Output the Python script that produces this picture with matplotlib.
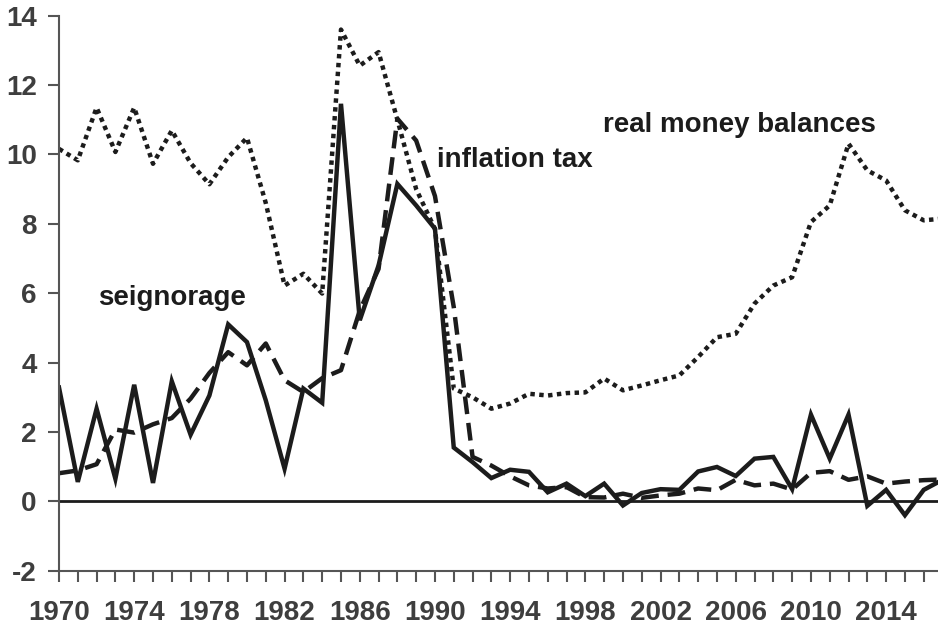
import matplotlib
matplotlib.use('Agg')
import matplotlib.pyplot as plt

plt.rcParams['font.family'] = ['Liberation Sans', 'DejaVu Sans']
plt.rcParams['axes.unicode_minus'] = False

# years 1970-2017
years = list(range(1970, 2018))

# seignorage (solid)
seignorage = [3.28, 0.56, 2.67, 0.65, 3.36, 0.53, 3.46, 1.92, 3.05, 5.10,
              4.59, 2.91, 0.94, 3.25, 2.84, 11.46, 5.22, 6.80, 9.15, 8.53,
              7.86, 1.55, 1.13, 0.67, 0.91, 0.85, 0.26, 0.51, 0.15, 0.51,
              -0.12, 0.24, 0.35, 0.33, 0.86, 0.99, 0.73, 1.23, 1.28, 0.35,
              2.50, 1.23, 2.50, -0.13, 0.33, -0.40, 0.33, 0.62]

# inflation tax (dashed)
inflation_tax = [0.81, 0.89, 1.07, 2.07, 1.98, 2.22, 2.40, 2.96, 3.70, 4.30,
                 3.92, 4.55, 3.49, 3.15, 3.55, 3.78, 5.50, 6.70, 11.03, 10.40,
                 8.80, 5.60, 1.28, 1.03, 0.72, 0.46, 0.37, 0.41, 0.12, 0.11,
                 0.22, 0.10, 0.17, 0.22, 0.37, 0.32, 0.62, 0.46, 0.51, 0.34,
                 0.82, 0.87, 0.62, 0.72, 0.51, 0.57, 0.61, 0.63]

# real money balances (dotted)
real_money = [10.16, 9.83, 11.35, 10.07, 11.35, 9.73, 10.69, 9.75, 9.14, 9.92,
              10.48, 8.60, 6.22, 6.56, 5.99, 13.60, 12.56, 12.95, 11.00, 9.00,
              7.85, 3.25, 3.00, 2.67, 2.82, 3.10, 3.05, 3.12, 3.14, 3.54,
              3.20, 3.34, 3.49, 3.63, 4.16, 4.73, 4.83, 5.70, 6.22, 6.46,
              8.05, 8.53, 10.31, 9.54, 9.25, 8.39, 8.10, 8.15]

tick_years = list(range(1970, 2017, 4))
line_col = '#1c1c1c'
axis_col = '#555555'
label_col = '#3e3e3e'

fig = plt.figure(figsize=(9.38, 6.27), dpi=100)
ax = fig.add_axes([0.0629, 0.0898, 0.9371, 0.8852])

ax.plot(years, real_money, color=line_col, lw=3.2, linestyle=(0, (1, 1)),
        dash_capstyle='butt')
ax.plot(years, inflation_tax, color=line_col, lw=3.2, linestyle=(0, (4, 2)),
        dash_capstyle='butt')
ax.plot(years, seignorage, color=line_col, lw=3.2, solid_joinstyle='miter')
ax.axhline(0, color=line_col, lw=2, zorder=1)

ax.set_xlim(1970, 2016.76)
ax.set_ylim(-2, 14)

for s in ['top', 'right']:
    ax.spines[s].set_visible(False)
for s in ['left', 'bottom']:
    ax.spines[s].set_color(axis_col)
    ax.spines[s].set_linewidth(1.5)

ax.set_yticks(range(-2, 15, 2))
ax.set_xticks(years[:47], minor=True)
ax.set_xticks(tick_years)
ax.set_xticklabels([str(y) for y in tick_years])
ax.tick_params(axis='both', which='both', direction='out', length=8,
               width=1.5, color=axis_col)
ax.tick_params(axis='both', which='major', labelsize=20, labelcolor=label_col)
ax.tick_params(axis='x', pad=13)
ax.tick_params(axis='y', pad=8)
for lab in ax.get_xticklabels() + ax.get_yticklabels():
    lab.set_fontweight('bold')

ax.text(1972.07, 5.85, 'seignorage', fontsize=20, fontweight='bold',
        color=line_col, va='center', ha='left')
ax.text(1990.1, 9.85, 'inflation tax', fontsize=20, fontweight='bold',
        color=line_col, va='center', ha='left')
ax.text(1998.94, 10.86, 'real money balances', fontsize=20, fontweight='bold',
        color=line_col, va='center', ha='left')

fig.savefig('out.png', dpi=100)
